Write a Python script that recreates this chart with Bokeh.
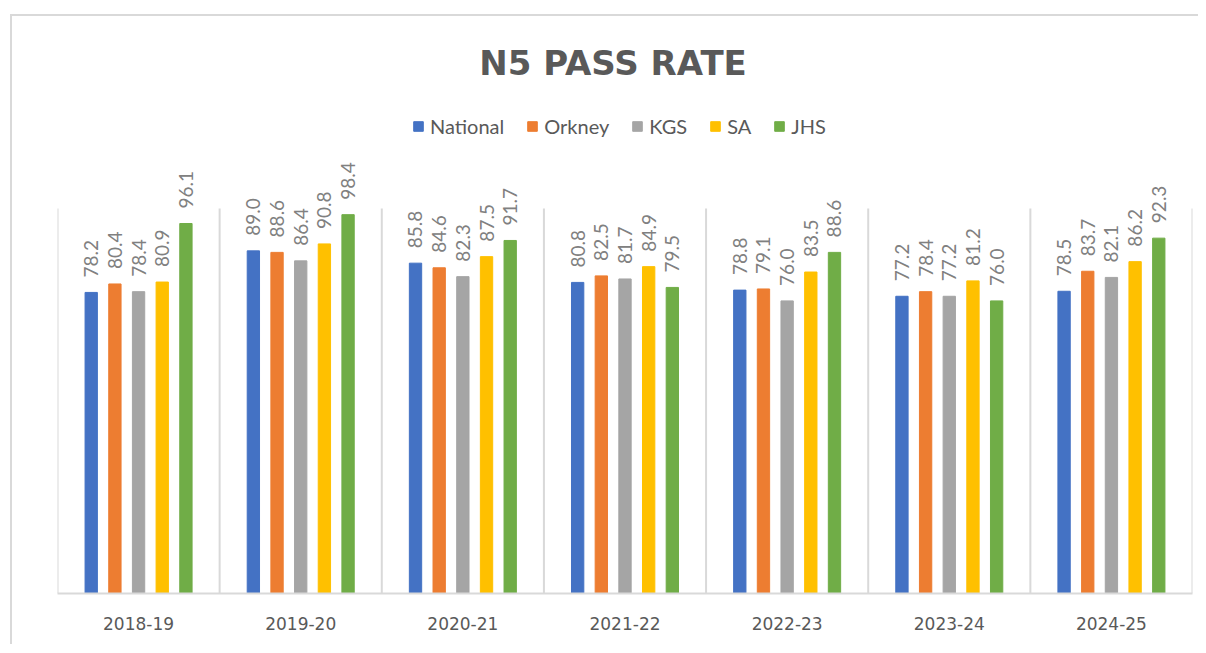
import numpy as np
from bokeh.plotting import figure
from bokeh.models import (ColumnDataSource, Range1d, FixedTicker, LabelSet, Label,
                          Legend, LegendItem)
from bokeh.core.properties import value
from bokeh.embed import file_html
from bokeh.resources import INLINE

# ---------------- data ----------------
years = ["2018-19", "2019-20", "2020-21", "2021-22", "2022-23", "2023-24", "2024-25"]
series_names = ["National", "Orkney", "KGS", "SA", "JHS"]
national = [78.2, 89.0, 85.8, 80.8, 78.8, 77.2, 78.5]
orkney = [80.4, 88.6, 84.6, 82.5, 79.1, 78.4, 83.7]
kgs = [78.4, 86.4, 82.3, 81.7, 76.0, 77.2, 82.1]
sa = [80.9, 90.8, 87.5, 84.9, 83.5, 81.2, 86.2]
jhs = [96.1, 98.4, 91.7, 79.5, 88.6, 76.0, 92.3]
series_values = [national, orkney, kgs, sa, jhs]
colors = ["#4472C4", "#ED7D31", "#A5A5A5", "#FFC000", "#70AD47"]
y_max = 100

# ---------------- layout constants ----------------
FONT = "Lato"
W, H = 1188, 630
LEFT, RIGHT, BOTTOM = 45, 8, 53
FRAME_H = H - BOTTOM
PLOT_PX = 385  # pixel height of the 0..100 value range
y_end = y_max * FRAME_H / PLOT_PX

p = figure(width=W, height=H, output_backend="svg", toolbar_location=None,
           x_range=Range1d(0, len(years)), y_range=Range1d(0, y_end),
           min_border_left=LEFT, min_border_right=RIGHT, min_border_top=0,
           min_border_bottom=BOTTOM, title=None)
p.margin = (14, 0, 0, 10)
p.styles = {"border-top": "2px solid #d9d9d9", "border-left": "2px solid #d9d9d9"}
p.outline_line_color = None
p.background_fill_color = "white"
p.border_fill_color = "white"
p.xgrid.visible = False
p.ygrid.visible = False
p.yaxis.visible = False

# category separators
idx = np.arange(len(years) + 1)
p.segment(x0=idx, y0=np.zeros(len(idx)), x1=idx, y1=np.full(len(idx), y_max),
          line_color="#d9d9d9", line_width=2)

# bars
pitch = 0.146
bar_w = 0.076
centers = np.arange(len(years)) + 0.5
items = []
for k, (name, vals, col) in enumerate(zip(series_names, series_values, colors)):
    xs = centers + (k - 2) * pitch
    src = ColumnDataSource(dict(x=xs, top=vals, lab=[f"{v:.1f}" for v in vals]))
    r = p.vbar(x="x", top="top", width=bar_w, bottom=0, source=src,
               fill_color=col, line_color=col)
    items.append(LegendItem(label=name, renderers=[r]))
    p.add_layout(LabelSet(x="x", y="top", text="lab", source=src, angle=np.pi / 2,
                          text_align="left", text_baseline="middle", y_offset=15,
                          text_font=value(FONT), text_font_size="19px",
                          text_color="#808080"))

# x axis
p.xaxis.ticker = FixedTicker(ticks=list(centers))
p.xaxis.major_label_overrides = {float(c): y for c, y in zip(centers, years)}
p.xaxis.axis_line_color = "#d9d9d9"
p.xaxis.axis_line_width = 2
p.xaxis.major_tick_line_color = None
p.xaxis.minor_tick_line_color = None
p.xaxis.major_label_standoff = 17
p.xaxis.major_label_text_font = "DejaVu Sans"
p.xaxis.major_label_text_font_size = "17px"
p.xaxis.major_label_text_color = "#595959"

# legend
legend = Legend(items=items, orientation="horizontal", location=(355, 455),
                glyph_width=12, glyph_height=12, label_standoff=6, spacing=22,
                padding=4, margin=0, border_line_color=None,
                background_fill_alpha=0, label_text_font=FONT,
                label_text_font_size="20px", label_text_color="#595959")
p.add_layout(legend, "center")

# title
p.add_layout(Label(x=len(years) / 2, y=y_max * (593 - 62) / PLOT_PX, text="N5 PASS RATE",
                   x_offset=-12, text_align="center", text_baseline="middle",
                   text_font="DejaVu Sans", text_font_size="34px", text_font_style="bold",
                   text_color="#595959"))

open("out.html", "w").write(file_html(p, INLINE))
